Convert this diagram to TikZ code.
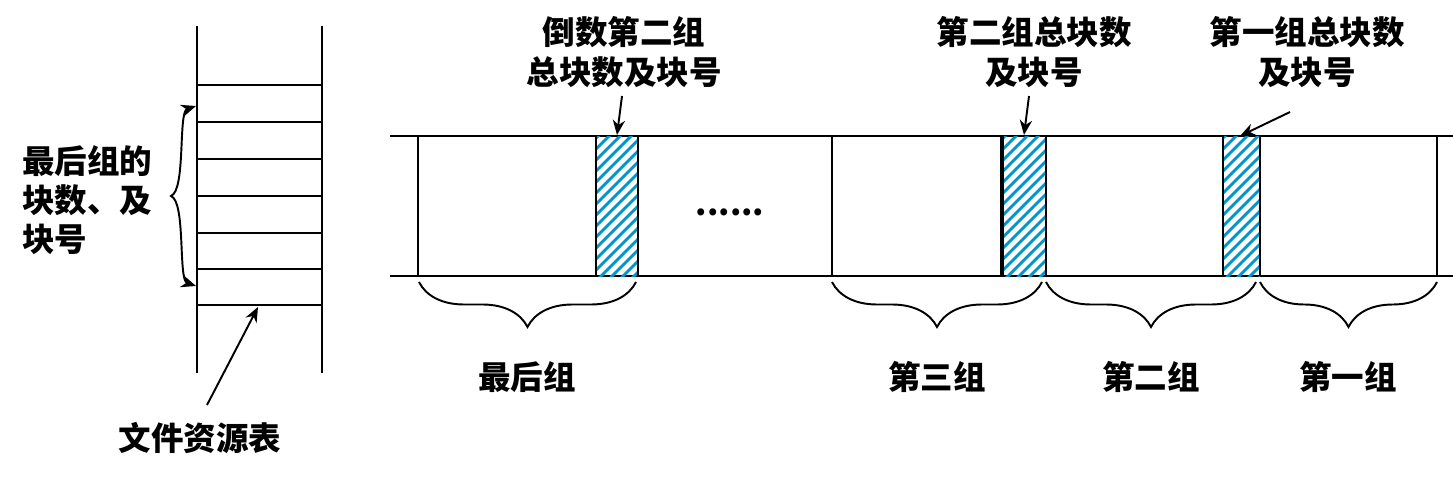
\documentclass[tikz,border=0pt]{standalone}
\usepackage{fontspec}
\setmainfont{Noto Sans CJK SC}
\usetikzlibrary{arrows.meta,decorations.pathreplacing}
\definecolor{hatchblue}{RGB}{0,150,205}
\tikzset{
  line/.style={line width=1.1pt},
  tip/.style={Stealth[length=8.5pt,width=7pt]},
  ptr/.style={line width=1.1pt,-{Stealth[length=8.5pt,width=7pt]}},
  grp/.style={decorate,decoration={brace,mirror,amplitude=0.9cm},line width=1.1pt},
  hatch/.style={hatchblue,line width=1.6pt},
  lab/.style={font=\bfseries\fontsize{18.5}{22.4}\selectfont,align=center,inner sep=0pt},
}
\begin{document}
\begin{tikzpicture}[x=0.02cm,y=-0.02cm]
\useasboundingbox (0,0) rectangle (1453,477);

% file resource table
\draw[line] (197,26) -- (197,373);
\draw[line] (322,26) -- (322,373);
\foreach \y in {85,122,159,196,233,269,305}
  \draw[line] (197,\y) -- (322,\y);
\node[lab,align=left,anchor=west] (lastinfo) at (22,200) {最后组的\\块数、及\\块号};
\coordinate (rtop) at (196,106);
\coordinate (rmid) at (171,196);
\coordinate (rbot) at (196,286);
\draw[line,{Stealth[length=8.5pt,width=7pt]}-{Stealth[length=8.5pt,width=7pt]}]
  (rtop) .. controls (178,112) and (186,190) .. (rmid)
  .. controls (186,202) and (178,280) .. (rbot);
\node[lab] (table) at (200,438) {文件资源表};
\coordinate (tabtail) at (207,405);
\coordinate (tabhead) at (258,307);
\draw[ptr] (tabtail) -- (tabhead);

% blocks
\draw[line] (390,136) -- (1453,136);
\draw[line] (390,276) -- (1453,276);
\foreach \b/\e in {596/638,1003/1046,1223/1260}
{
  \begin{scope}
    \clip (\b,136) rectangle (\e,276);
    \foreach \k in {0,...,20}
      \draw[hatch] (\b-5,{330-\k*11}) -- ++(60,-60);
  \end{scope}
  \draw[line] (\b,136) -- (\b,276);
  \draw[line] (\e,136) -- (\e,276);
}
\foreach \x in {418,832,1437}
  \draw[line] (\x,136) -- (\x,276);
\draw[line width=2.2pt] (1002,136) -- (1002,276);
\node[lab] (dots) at (730,212) {......};

% pointers to group heads
\node[lab] (head3) at (624,52) {倒数第二组\\总块数及块号};
\node[lab] (head2) at (1034,52) {第二组总块数\\及块号};
\node[lab] (head1) at (1307,52) {第一组总块数\\及块号};
\coordinate (h3) at (617,135);
\coordinate (h2) at (1024,135);
\coordinate (h1) at (1240,136);
\draw[ptr] (622,96) -- (h3);
\draw[ptr] (1029,96) -- (h2);
\draw[ptr] (1290,112) -- (h1);

% groups
\draw[grp] (419,282) -- (636,282);
\draw[grp] (832,282) -- (1042,282);
\draw[grp] (1046,282) -- (1256,282);
\draw[grp] (1260,282) -- (1437,282);
\node[lab] (glast) at (527,377) {最后组};
\node[lab] (g3) at (937,377) {第三组};
\node[lab] (g2) at (1151,377) {第二组};
\node[lab] (g1) at (1348,377) {第一组};
\end{tikzpicture}
\end{document}
